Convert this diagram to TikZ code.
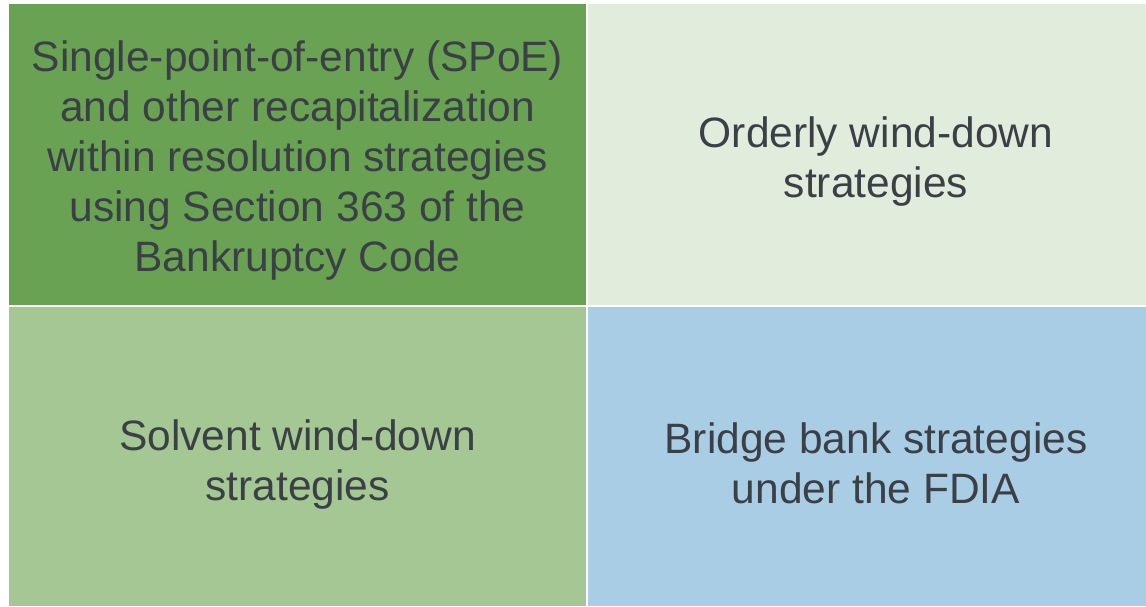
\documentclass[tikz,border=0pt]{standalone}
\usepackage{fontspec}
\setmainfont{Liberation Sans}
\definecolor{dkgreen}{HTML}{6AA253}
\definecolor{palegreen}{HTML}{E2ECDC}
\definecolor{ltgreen}{HTML}{A4C794}
\definecolor{ltblue}{HTML}{A9CDE4}
\definecolor{txt}{HTML}{3B4046}
\begin{document}
\begin{tikzpicture}[x=1pt,y=-1pt,
  cell/.style={anchor=north west,inner sep=0pt,outer sep=0pt,draw=none},
  lbl/.style={inner sep=0pt,text=txt,align=center,font=\fontsize{42.5}{50}\selectfont},
]
\useasboundingbox[fill=white] (0,0) rectangle (1146,606);
\node[cell,fill=dkgreen,minimum width=577pt,minimum height=301pt] (tl) at (9,4) {};
\node[cell,fill=palegreen,minimum width=558pt,minimum height=301pt] (tr) at (588,4) {};
\node[cell,fill=ltgreen,minimum width=577pt,minimum height=299pt] (bl) at (9,307) {};
\node[cell,fill=ltblue,minimum width=558pt,minimum height=299pt] (br) at (588,307) {};
\node[lbl] (tlt) at ([yshift=-6pt]tl.center)
  {Single-point-of-entry (SPoE)\\and other recapitalization\\within resolution strategies\\using Section 363 of the\\Bankruptcy Code};
\node[lbl] (trt) at ([xshift=9pt,yshift=-7pt]tr.center) {Orderly wind-down\\strategies};
\node[lbl] (blt) at ([yshift=-8pt]bl.center) {Solvent wind-down\\strategies};
\node[lbl] (brt) at ([xshift=9pt,yshift=-7pt]br.center) {Bridge bank strategies\\under the FDIA};
\end{tikzpicture}
\end{document}
